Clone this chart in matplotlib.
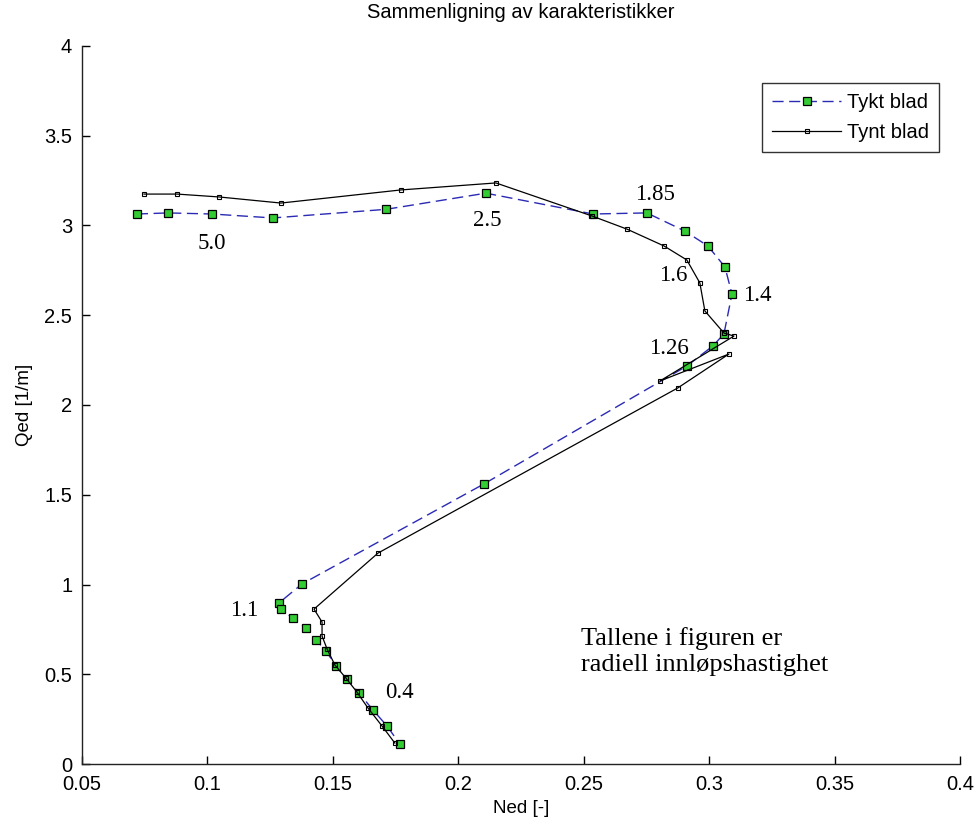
import matplotlib
matplotlib.use("Agg")
import matplotlib.pyplot as plt

# Tykt blad (dashed blue, green squares)
ned_tykt = [0.0719, 0.0843, 0.1018, 0.1261, 0.1712, 0.2110, 0.2537, 0.2752, 0.2903,
            0.2995, 0.3063, 0.3091, 0.3059, 0.3015, 0.2911, 0.2102, 0.1377, 0.1285,
            0.1293, 0.1341, 0.1393, 0.1433, 0.1473, 0.1512, 0.1556, 0.1604, 0.1660,
            0.1716, 0.1767]
qed_tykt = [3.064, 3.070, 3.064, 3.042, 3.090, 3.180, 3.064, 3.070, 2.969,
            2.886, 2.769, 2.618, 2.396, 2.329, 2.217, 1.560, 1.003, 0.897,
            0.863, 0.813, 0.758, 0.691, 0.630, 0.546, 0.474, 0.396, 0.301,
            0.212, 0.111]

# Tynt blad (solid black, small squares)
ned_tynt = [0.0747, 0.0879, 0.1046, 0.1293, 0.1771, 0.2150, 0.2533, 0.2672, 0.2820,
            0.2911, 0.2963, 0.2983, 0.3059, 0.3099, 0.2804, 0.3079, 0.2875, 0.1680,
            0.1425, 0.1457, 0.1457, 0.1477, 0.1508, 0.1552, 0.1596, 0.1640, 0.1696,
            0.1747]
qed_tynt = [3.175, 3.175, 3.159, 3.125, 3.198, 3.237, 3.053, 2.980, 2.886,
            2.808, 2.680, 2.524, 2.401, 2.384, 2.134, 2.284, 2.095, 1.175,
            0.863, 0.791, 0.713, 0.641, 0.552, 0.479, 0.401, 0.312, 0.212,
            0.117]

# radial inlet speed labels
lbl_text = ["5.0", "2.5", "1.85", "1.6", "1.4", "1.26", "1.1", "0.4"]
lbl_x = [0.1018, 0.2114, 0.2784, 0.2856, 0.3190, 0.2840, 0.1146, 0.1767]
lbl_y = [2.900, 3.030, 3.175, 2.724, 2.610, 2.317, 0.858, 0.396]

xticks = [0.05, 0.1, 0.15, 0.2, 0.25, 0.3, 0.35, 0.4]
xticklabels = ["0.05", "0.1", "0.15", "0.2", "0.25", "0.3", "0.35", "0.4"]
yticks = [0, 0.5, 1, 1.5, 2, 2.5, 3, 3.5, 4]
yticklabels = ["0", "0.5", "1", "1.5", "2", "2.5", "3", "3.5", "4"]

plt.rcParams['font.family'] = ['Liberation Sans', 'DejaVu Sans']

fig = plt.figure(figsize=(9.77, 8.21), dpi=100)
ax = fig.add_axes([0.0839, 0.0694, 0.8987, 0.8746])

ax.plot(ned_tykt, qed_tykt, color='#2a2ab4', linestyle=(0, (8, 4)), linewidth=1.0,
        marker='s', markersize=6, markerfacecolor='#33cc33', markeredgecolor='black',
        markeredgewidth=0.9, label='Tykt blad')
ax.plot(ned_tynt, qed_tynt, color='black', linestyle='-', linewidth=0.9,
        marker='s', markersize=3, markerfacecolor='none', markeredgecolor='black',
        markeredgewidth=0.8, label='Tynt blad')

for t, x, y in zip(lbl_text, lbl_x, lbl_y):
    ax.text(x, y, t, ha='center', va='center', fontsize=16.5,
            family=['Liberation Serif', 'DejaVu Serif'])

ax.text(0.2489, 0.627, "Tallene i figuren er\nradiell innløpshastighet", ha='left',
        va='center', fontsize=19, linespacing=1.25,
        family=['Liberation Serif', 'DejaVu Serif'])

ax.set_xlim(0.05, 0.4)
ax.set_ylim(0, 4)
ax.set_xticks(xticks)
ax.set_xticklabels(xticklabels)
ax.set_yticks(yticks)
ax.set_yticklabels(yticklabels)
ax.tick_params(direction='in', length=6, labelsize=14.5, width=1)
ax.tick_params(axis='x', pad=8)
ax.tick_params(axis='y', pad=7)
for s in ['top', 'right']:
    ax.spines[s].set_visible(False)
for s in ['left', 'bottom']:
    ax.spines[s].set_linewidth(1.0)
    ax.spines[s].set_color('#222222')

ax.set_title("Sammenligning av karakteristikker", fontsize=14.5, pad=20)
ax.set_xlabel("Ned [-]", fontsize=13.5, labelpad=4)
ax.set_ylabel("Qed [1/m]", fontsize=13.5, labelpad=8)

leg = ax.legend(loc='upper right', bbox_to_anchor=(0.976, 0.9485), borderaxespad=0,
                fontsize=14.5, frameon=True, fancybox=False, edgecolor='black',
                handlelength=3.4, borderpad=0.5, labelspacing=0.55, handletextpad=0.3)
leg.get_frame().set_linewidth(1.0)

fig.savefig("out.png", dpi=100)
